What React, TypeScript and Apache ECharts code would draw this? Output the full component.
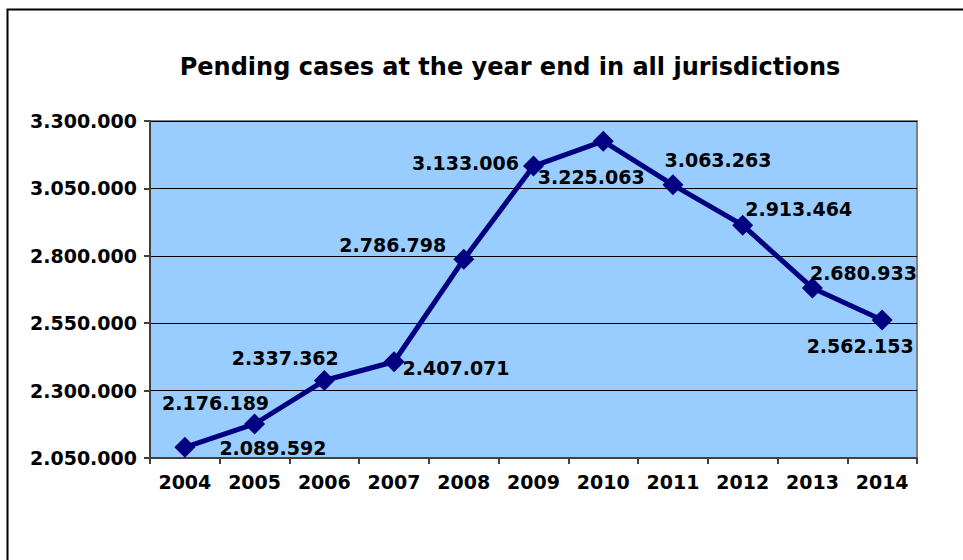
import React, { useEffect, useRef } from "react";
import * as echarts from "echarts";

const TITLE = "Pending cases at the year end in all jurisdictions";
const years = ["2004", "2005", "2006", "2007", "2008", "2009", "2010", "2011", "2012", "2013", "2014"];
const pending = [2089592, 2176189, 2337362, 2407071, 2786798, 3133006, 3225063, 3063263, 2913464, 2680933, 2562153];
// label offsets (px) from each point, as placed in the reference
const labelOffsets: [number, number][] = [
  [88, 1], [-39, -21], [-39, -23], [62, 6], [-71, -14], [-68, -3],
  [-12, 36], [45, -25], [56, -16], [51, -15], [-22, 26],
];

const fmt = (v: number) => String(Math.round(v)).replace(/\B(?=(\d{3})+(?!\d))/g, ".");

export default function App() {
  const ref = useRef<HTMLDivElement>(null);
  useEffect(() => {
    if (!ref.current) return;
    const chart = echarts.init(ref.current, null, { renderer: "svg" });
    const font = "DejaVu Sans";
    chart.setOption({
      animation: false,
      backgroundColor: "#ffffff",
      title: {
        text: TITLE,
        left: 505,
        top: 50,
        textAlign: "center",
        textStyle: { fontFamily: font, fontWeight: "bold", fontSize: 24, color: "#000" },
      },
      graphic: [
        {
          type: "polyline",
          shape: { points: [[7.5, 600], [7.5, 9.5], [1000, 9.5]] },
          style: { stroke: "#000", lineWidth: 2, fill: null },
          z: 10,
        },
      ],
      grid: {
        left: 150,
        right: 46,
        top: 121,
        bottom: 102,
        show: true,
        backgroundColor: "#99CCFF",
        borderColor: "#808080",
        borderWidth: 2,
      },
      xAxis: {
        type: "category",
        data: years,
        boundaryGap: true,
        axisLine: { lineStyle: { color: "#404040", width: 2 } },
        axisTick: { show: true, length: 6, alignWithLabel: false, lineStyle: { color: "#404040", width: 2 } },
        axisLabel: { fontFamily: font, fontWeight: "bold", fontSize: 19, color: "#000", margin: 14 },
        splitLine: { show: false },
      },
      yAxis: {
        type: "value",
        min: 2050000,
        max: 3300000,
        interval: 250000,
        axisLine: { show: true, lineStyle: { color: "#404040", width: 2 } },
        axisTick: { show: true, length: 6, lineStyle: { color: "#404040", width: 2 } },
        axisLabel: {
          fontFamily: font, fontWeight: "bold", fontSize: 19, color: "#000", margin: 13,
          formatter: (v: number) => fmt(v),
        },
        splitLine: { show: true, lineStyle: { color: "#000", width: 1 } },
      },
      series: [
        {
          type: "line",
          data: pending.map((v, i) => ({
            value: v,
            label: { offset: labelOffsets[i] },
          })),
          lineStyle: { color: "#000080", width: 5 },
          itemStyle: { color: "#000080" },
          symbol: "diamond",
          symbolSize: 21,
          label: {
            show: true,
            position: "inside",
            align: "center",
            verticalAlign: "middle",
            fontFamily: font,
            fontWeight: "bold",
            fontSize: 19,
            color: "#000",
            formatter: (p: any) => fmt(p.value),
          },
          z: 5,
        },
      ],
    });
    return () => chart.dispose();
  }, []);
  return <div ref={ref} style={{ position: "fixed", left: 0, top: 0, width: 963, height: 560 }} />;
}
